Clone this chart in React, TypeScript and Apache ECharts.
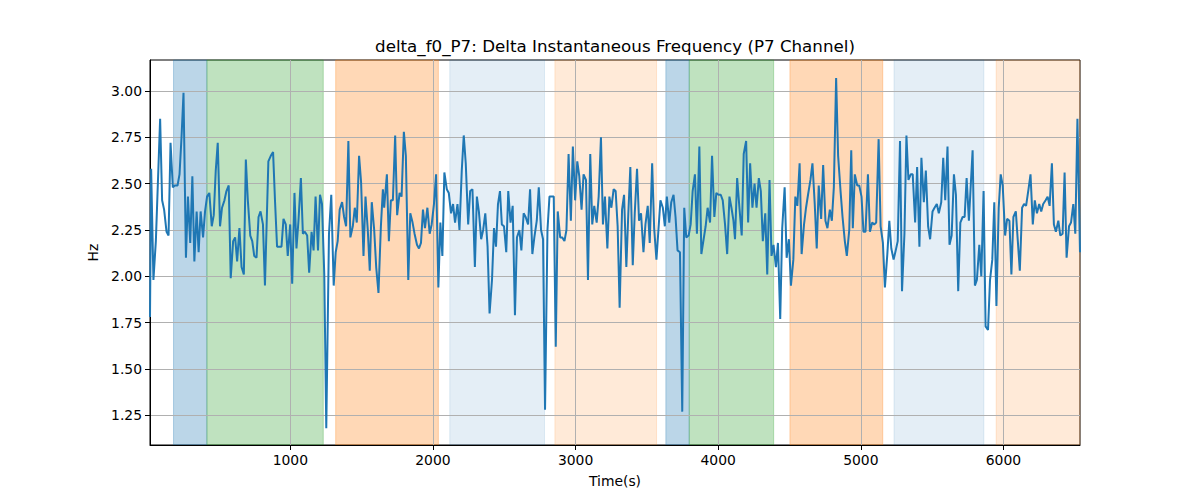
import React, { useEffect, useRef } from "react";
import * as echarts from "echarts";

// Time (s) of each sample
const timeS = [
  16, 24, 40, 57, 87, 101, 115, 132, 146, 160,
  176, 190, 209, 223, 237, 251, 268, 282, 298, 313,
  327, 343, 357, 371, 388, 402, 416, 432, 449, 463,
  477, 491, 507, 521, 538, 552, 568, 582, 599, 613,
  627, 643, 658, 674, 688, 702, 719, 733, 747, 763,
  777, 791, 808, 822,
  846, 863, 879, 893, 907, 921, 938, 952, 968, 982,
  999, 1013, 1029, 1043, 1057, 1074, 1088, 1102, 1118, 1132,
  1149, 1163, 1177, 1194, 1208, 1222, 1238, 1252, 1271, 1287,
  1304, 1318, 1332, 1346, 1363, 1377, 1391, 1407, 1421, 1438,
  1452, 1466, 1482, 1496, 1513, 1527, 1543, 1557, 1571, 1588,
  1602, 1618, 1635, 1649,
  1658, 1677, 1691, 1705, 1719, 1735, 1749, 1766, 1780, 1796,
  1810, 1827, 1841, 1857, 1871, 1888, 1902, 1916, 1930, 1944,
  1961, 1977, 1991, 2007, 2022, 2038, 2052, 2066, 2080, 2097,
  2111, 2127, 2141, 2155, 2172, 2186, 2202, 2216, 2230, 2247,
  2261, 2277, 2294, 2308, 2322, 2338, 2352, 2367, 2383, 2397,
  2414, 2428, 2442, 2456, 2470,
  2483, 2498, 2514, 2528, 2544, 2559, 2575, 2589, 2606, 2620,
  2636, 2650, 2667, 2681, 2697, 2711, 2728, 2742, 2758, 2772,
  2786, 2803, 2817, 2831, 2847, 2861, 2875, 2892, 2906, 2922,
  2936, 2951, 2967, 2981, 2997, 3012, 3026, 3042, 3056, 3073,
  3087, 3103, 3117, 3131, 3148, 3162, 3178, 3192, 3206, 3223,
  3237, 3251, 3267, 3281,
  3295, 3309, 3326, 3340, 3356, 3370, 3384, 3401, 3415, 3431,
  3445, 3459, 3476, 3490, 3506, 3520, 3537, 3551, 3567, 3581,
  3595, 3612, 3626, 3640, 3657, 3671, 3687, 3701, 3715, 3732,
  3748, 3762, 3776, 3793, 3807, 3821, 3837, 3851, 3868, 3882,
  3896, 3912, 3926, 3943, 3957, 3973, 3987, 4002, 4018, 4032,
  4048, 4063, 4079, 4093, 4107,
  4118, 4133, 4149, 4165, 4179, 4196, 4210, 4224, 4240, 4255,
  4269, 4285, 4299, 4313, 4330, 4344, 4360, 4374, 4388, 4405,
  4419, 4435, 4449, 4466, 4480, 4496, 4510, 4527, 4541, 4555,
  4571, 4585, 4602, 4616, 4630, 4647, 4661, 4677, 4691, 4705,
  4722, 4736, 4752, 4766, 4783, 4797, 4811, 4827, 4841, 4858,
  4872, 4888, 4902, 4919, 4933,
  4944, 4958, 4975, 4989, 5005, 5019, 5033, 5050, 5064, 5080,
  5094, 5108, 5125, 5139, 5155, 5169, 5186, 5200, 5214, 5230,
  5245, 5259, 5275, 5289, 5306, 5320, 5334, 5350, 5364, 5381,
  5395, 5411, 5425, 5442, 5456, 5472, 5486, 5503, 5517, 5533,
  5547, 5564, 5578, 5592, 5608, 5622, 5637, 5653, 5667, 5683,
  5698, 5714, 5728, 5742,
  5758, 5784, 5800, 5814, 5831, 5845, 5861, 5875, 5892, 5906,
  5922, 5936, 5951, 5967, 5981, 5995, 6012, 6026, 6042, 6056,
  6070, 6087, 6101, 6115, 6131, 6145, 6159, 6176, 6190, 6206,
  6220, 6235, 6251, 6265, 6279, 6296, 6310, 6324, 6340, 6354,
  6368, 6385, 6399, 6415, 6429, 6443, 6460, 6474, 6490, 6504,
  6519, 6537,
];

// delta_f0_P7 values (Hz)
const deltaF0 = [
  1.78, 2.58, 1.98, 2.19, 2.85, 2.41, 2.36, 2.24, 2.22, 2.72,
  2.48, 2.49, 2.49, 2.55, 2.75, 2.99, 2.10, 2.43, 2.18, 2.54,
  2.08, 2.35, 2.13, 2.35, 2.21, 2.35, 2.43, 2.45, 2.27, 2.33,
  2.57, 2.72, 2.27, 2.37, 2.41, 2.46, 2.49, 1.99, 2.19, 2.21,
  2.08, 2.26, 2.05, 2.01, 2.63, 2.41, 2.22, 2.19, 2.11, 2.10,
  2.32, 2.35, 2.28, 1.95,
  2.62, 2.65, 2.67, 2.40, 2.16, 2.16, 2.16, 2.31, 2.28, 2.11,
  2.28, 1.96, 2.45, 2.15, 2.30, 2.53, 2.23, 2.24, 2.22, 2.02,
  2.24, 2.14, 2.43, 2.14, 2.44, 2.39, 2.01, 1.18, 2.23, 2.44,
  1.95, 2.13, 2.19, 2.36, 2.40, 2.32, 2.27, 2.73, 2.21, 2.27,
  2.37, 2.29, 2.65, 2.51, 2.11, 2.43, 2.25, 2.03, 2.40, 2.25,
  2.05, 1.91, 2.27, 2.47,
  2.37, 2.55, 2.19, 2.41, 2.41, 2.76, 2.33, 2.45, 2.43, 2.78,
  2.65, 1.98, 2.34, 2.29, 2.23, 2.17, 2.15, 2.18, 2.36, 2.26,
  2.37, 2.23, 2.28, 2.39, 2.55, 1.94, 2.29, 2.11, 2.56, 2.47,
  2.45, 2.34, 2.39, 2.29, 2.39, 2.25, 2.57, 2.76, 2.61, 2.28,
  2.46, 2.47, 2.05, 2.43, 2.35, 2.20, 2.25, 2.34, 2.16, 1.80,
  1.98, 2.26, 2.16, 2.39, 2.46,
  2.28, 2.27, 2.13, 2.46, 2.29, 2.38, 1.79, 2.21, 2.25, 2.14,
  2.34, 2.32, 2.28, 2.47, 2.12, 2.21, 2.30, 2.48, 2.25, 2.20,
  1.28, 2.25, 2.43, 2.43, 2.43, 1.62, 2.35, 2.21, 2.21, 2.19,
  2.25, 2.66, 2.30, 2.70, 2.41, 2.62, 2.54, 2.36, 2.55, 2.52,
  1.98, 2.66, 2.28, 2.38, 2.29, 2.43, 2.75, 2.28, 2.43, 2.15,
  2.43, 2.37, 2.47, 2.46,
  2.27, 1.83, 2.36, 2.44, 2.05, 2.34, 2.59, 2.06, 2.34, 2.58,
  2.30, 2.34, 2.13, 2.28, 2.38, 2.18, 2.61, 2.26, 2.09, 2.25,
  2.41, 2.37, 2.27, 2.43, 2.29, 2.40, 2.44, 2.32, 2.14, 2.13,
  1.27, 2.37, 2.21, 2.22, 2.28, 2.46, 2.55, 2.23, 2.70, 2.12,
  2.19, 2.27, 2.37, 2.29, 2.65, 2.32, 2.45, 2.44, 2.44, 2.41,
  2.28, 2.12, 2.43, 2.37, 2.30,
  2.20, 2.53, 2.37, 2.22, 2.66, 2.73, 2.29, 2.61, 2.37, 2.50,
  2.37, 2.53, 2.46, 2.19, 2.34, 2.01, 2.52, 2.11, 2.17, 2.05,
  2.18, 1.77, 2.26, 2.48, 2.10, 2.20, 1.95, 2.09, 2.43, 2.38,
  2.61, 2.12, 2.28, 2.37, 2.44, 2.52, 2.61, 2.39, 2.15, 2.49,
  2.31, 2.60, 2.30, 2.26, 2.36, 2.30, 2.48, 3.07, 2.65, 2.46,
  2.32, 2.19, 2.11, 2.25, 2.68,
  2.26, 2.55, 2.49, 2.49, 2.43, 2.24, 2.24, 2.55, 2.24, 2.29,
  2.28, 2.29, 2.74, 2.27, 2.18, 1.94, 2.12, 2.30, 2.15, 2.09,
  2.14, 2.19, 2.73, 1.92, 2.23, 2.76, 2.52, 2.55, 2.55, 2.29,
  2.59, 2.16, 2.64, 2.40, 2.57, 2.27, 2.20, 2.35, 2.37, 2.39,
  2.34, 2.40, 2.64, 2.41, 2.70, 2.17, 2.22, 2.55, 2.44, 1.92,
  2.29, 2.32, 2.32, 2.53,
  2.30, 2.68, 1.95, 1.98, 2.17, 2.00, 2.46, 1.73, 1.71, 1.98,
  2.09, 2.40, 1.84, 2.37, 2.55, 2.49, 2.22, 2.31, 2.30, 2.01,
  2.32, 2.35, 2.19, 2.03, 2.37, 2.39, 2.38, 2.47, 2.55, 2.28,
  2.41, 2.34, 2.39, 2.35, 2.39, 2.41, 2.43, 2.38, 2.61, 2.28,
  2.24, 2.30, 2.22, 2.23, 2.56, 2.10, 2.27, 2.29, 2.39, 2.23,
  2.85, 2.13,
];

const xTicks = [1000, 2000, 3000, 4000, 5000, 6000];
const yTicks = [1.25, 1.5, 1.75, 2.0, 2.25, 2.5, 2.75, 3.0];

// Shaded segments
const spanStart = [181, 415, 1318, 2118, 2855, 3633, 3797, 4503, 5233, 5949];
const spanEnd = [415, 1231, 2038, 2782, 3568, 3797, 4389, 5154, 5863, 6537];
const spanColor = [
  "rgba(31,119,180,0.3)",
  "rgba(44,160,44,0.3)",
  "rgba(255,127,14,0.3)",
  "rgba(31,119,180,0.12)",
  "rgba(255,127,14,0.16)",
  "rgba(31,119,180,0.3)",
  "rgba(44,160,44,0.3)",
  "rgba(255,127,14,0.3)",
  "rgba(31,119,180,0.12)",
  "rgba(255,127,14,0.16)",
];

const TITLE = "delta_f0_P7: Delta Instantaneous Frequency (P7 Channel)";
const FONT = "DejaVu Sans";

export default function App() {
  const ref = useRef<HTMLDivElement>(null);

  useEffect(() => {
    if (!ref.current) return;
    const chart = echarts.init(ref.current, undefined, { renderer: "svg" });
    const lineData = timeS.map((t, i) => [t, deltaF0[i]]);
    const areas = spanStart.map((s, i) => [
      { xAxis: s, itemStyle: { color: spanColor[i], borderColor: spanColor[i], borderWidth: 1 } },
      { xAxis: spanEnd[i] },
    ]);
    const tickLabel = { fontFamily: FONT, fontSize: 13.9, color: "#000" };
    chart.setOption({
      animation: false,
      backgroundColor: "#fff",
      grid: {
        left: 150,
        top: 60,
        width: 930,
        height: 385,
        show: true,
        borderColor: "#000",
        borderWidth: 1,
        backgroundColor: "transparent",
      },
      graphic: [
        {
          type: "text",
          x: 615,
          y: 46,
          style: {
            text: TITLE,
            align: "center",
            verticalAlign: "middle",
            fontFamily: FONT,
            fontSize: 16.7,
            fill: "#000",
          },
        },
      ],
      xAxis: {
        type: "value",
        z: 2,
        min: timeS[0],
        max: timeS[timeS.length - 1],
        name: "Time(s)",
        nameLocation: "middle",
        nameGap: 29,
        nameTextStyle: { fontFamily: FONT, fontSize: 13.9, color: "#000" },
        axisLine: { show: true, onZero: false, lineStyle: { color: "#000", width: 1 } },
        axisTick: { show: true, length: 5, lineStyle: { color: "#000" }, customValues: xTicks },
        axisLabel: {
          ...tickLabel,
          margin: 8,
          customValues: xTicks,
          formatter: (v: number) => String(v),
        },
        splitLine: { show: true, lineStyle: { color: "#b0b0b0", width: 1 } },
      },
      yAxis: {
        type: "value",
        z: 2,
        min: 1.09,
        max: 3.167,
        name: "Hz",
        nameLocation: "middle",
        nameGap: 46,
        nameRotate: 90,
        nameTextStyle: { fontFamily: FONT, fontSize: 13.9, color: "#000" },
        axisLine: { show: true, onZero: false, lineStyle: { color: "#000", width: 1 } },
        axisTick: { show: true, length: 5, lineStyle: { color: "#000" }, customValues: yTicks },
        axisLabel: {
          ...tickLabel,
          margin: 8,
          customValues: yTicks,
          formatter: (v: number) => v.toFixed(2),
        },
        splitLine: { show: true, lineStyle: { color: "#b0b0b0", width: 1 } },
      },
      series: [
        {
          type: "line",
          name: "spans",
          data: [],
          z: 1,
          silent: true,
          markArea: { silent: true, data: areas },
        },
        {
          type: "line",
          name: "delta_f0_P7",
          data: lineData,
          z: 3,
          showSymbol: false,
          symbol: "none",
          lineStyle: { color: "#1f77b4", width: 2 },
          itemStyle: { color: "#1f77b4" },
        },
      ],
    });
    return () => chart.dispose();
  }, []);

  return (
    <div
      ref={ref}
      style={{ position: "fixed", left: 0, top: 0, width: 1200, height: 500 }}
    />
  );
}
